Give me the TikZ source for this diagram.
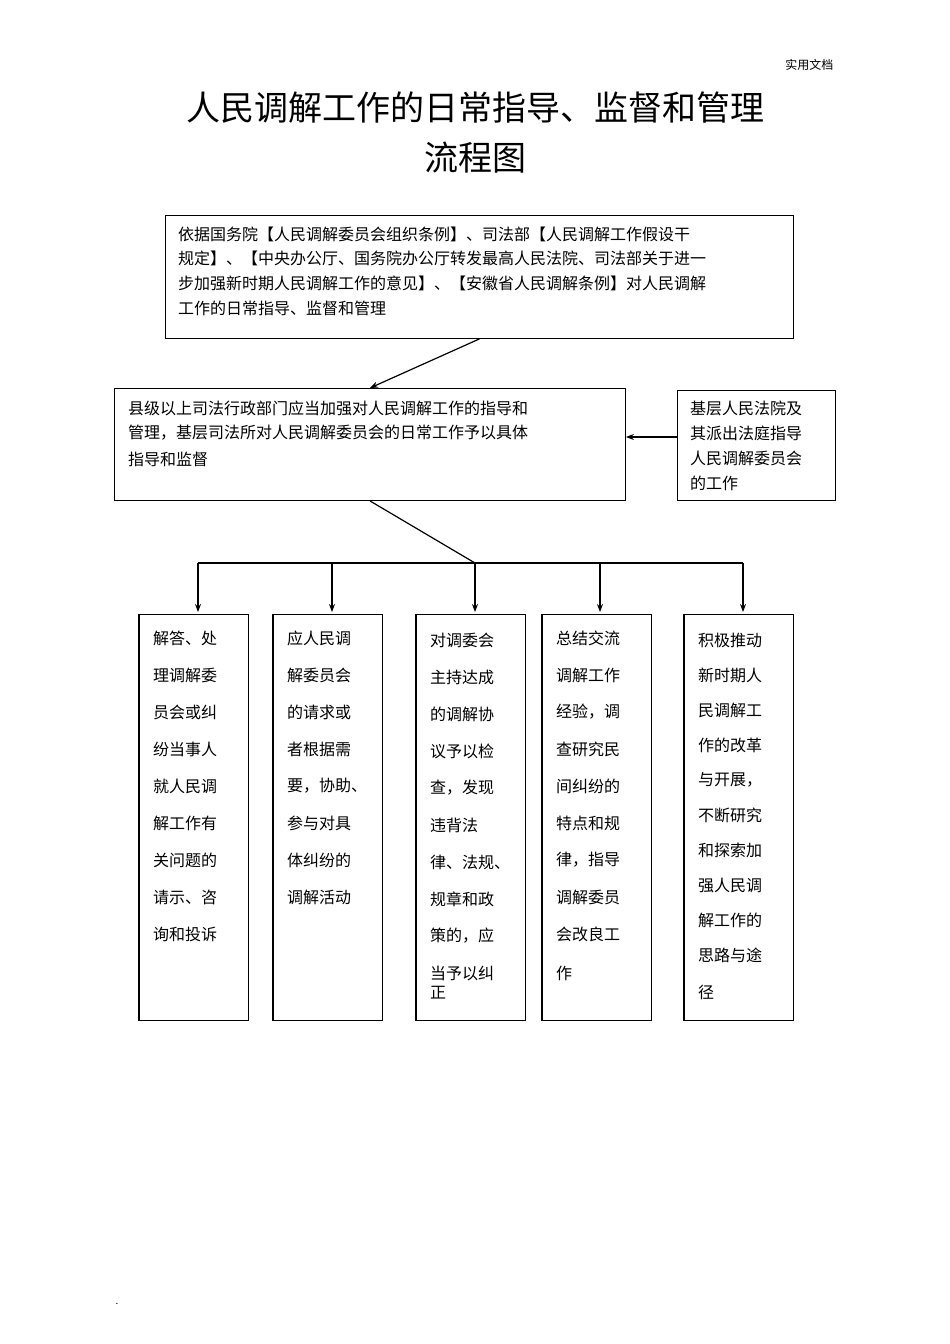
\documentclass[tikz,border=0pt]{standalone}
\usepackage{fontspec}
\usetikzlibrary{arrows.meta}
\setmainfont{Noto Sans CJK SC}
\XeTeXlinebreaklocale "zh"
\XeTeXlinebreakskip=0pt plus 1pt
\newcommand{\sprd}[2]{\makebox[#1][s]{#2}}
\begin{document}
\begin{tikzpicture}[x=1pt,y=-1pt,
  box/.style={draw,line width=0.9pt,anchor=north west,inner sep=0pt},
  ln/.style={anchor=west,inner sep=0pt,font=\fontsize{16}{18}\selectfont},
  arr/.style={-{Stealth[length=8pt,width=6pt]},line width=1.2pt}]
\useasboundingbox (0,0) rectangle (950,1344);
\node[anchor=east,font=\fontsize{12}{14}\selectfont] (hdr) at (837,65) {实用文档};
\node[font=\fontsize{34}{40}\selectfont] (t1) at (475,108) {人民调解工作的日常指导、监督和管理};
\node[font=\fontsize{34}{40}\selectfont] (t2) at (475,158) {流程图};
% box 1
\node[box,minimum width=628pt,minimum height=123pt] (b1) at (165,215) {};
\node[ln] (b1l1) at (178,234) {\sprd{602pt}{依据国务院【人民调解委员会组织条例】、司法部【人民调解工作假设干}};
\node[ln] (b1l2) at (178,258) {\sprd{602pt}{规定】、【中央办公厅、国务院办公厅转发最高人民法院、司法部关于进一}};
\node[ln] (b1l3) at (178,283) {\sprd{602pt}{步加强新时期人民调解工作的意见】、【安徽省人民调解条例】对人民调解}};
\node[ln] (b1l4) at (178,308) {\sprd{245pt}{工作的日常指导、监督和管理}};
% box 2
\node[box,minimum width=511pt,minimum height=112pt] (b2) at (114,388) {};
\node[ln] (b2l1) at (128,408) {\sprd{477pt}{县级以上司法行政部门应当加强对人民调解工作的指导和}};
\node[ln] (b2l2) at (128,433) {\sprd{477pt}{管理，基层司法所对人民调解委员会的日常工作予以具体}};
\node[ln] (b2l3) at (128,459) {\sprd{93pt}{指导和监督}};
% box 3
\node[box,minimum width=158pt,minimum height=110pt] (b3) at (677,390) {};
\node[ln] (b3l1) at (690,408) {\sprd{132pt}{基层人民法院及}};
\node[ln] (b3l2) at (690,433) {\sprd{132pt}{其派出法庭指导}};
\node[ln] (b3l3) at (690,458) {\sprd{132pt}{人民调解委员会}};
\node[ln] (b3l4) at (690,483) {\sprd{56pt}{的工作}};
% connectors top
\draw[arr] (b1.south) -- (b2.north);
\draw[arr] (b3.west |- 0,437) -- (b2.east |- 0,437);
\coordinate (hub) at (475,563);
\coordinate (hl) at (198,563);
\coordinate (hr) at (743,563);
\draw[line width=1.2pt] (b2.south) -- (hub);
\draw[line width=1.2pt] (hl) -- (hr);
% bottom boxes
\foreach \n/\x in {c1/139,c2/273,c3/416,c4/542,c5/684}{
  \node[box,minimum width=109pt,minimum height=406pt] (\n) at (\x,614) {};
  \draw[line width=1.6pt] (\n.north west) -- (\n.south west);
}
\foreach \n/\x in {c1/198,c2/332,c3/475,c4/600,c5/743}{
  \coordinate (\n t) at (\x,563);
  \draw[arr] (\n t) -- (\x,612);
}
\foreach [count=\i] \t in {解答、处,理调解委,员会或纠,纷当事人,就人民调,解工作有,关问题的,请示、咨,询和投诉}
  \node[ln] (c1l\i) at (153,638+37*\i-37) {\sprd{82pt}{\t}};
\foreach [count=\i] \t in {应人民调,解委员会,的请求或,者根据需,{要，协助、},参与对具,体纠纷的,调解活动}
  \node[ln] (c2l\i) at (287,638+37*\i-37) {\sprd{82pt}{\t}};
\foreach [count=\i] \t in {对调委会,主持达成,的调解协,议予以检,{查，发现},违背法,{律、法规、},规章和政,{策的，应},当予以纠}
  \node[ln] (c3l\i) at (430,640+37*\i-37) {\sprd{82pt}{\t}};
\node[ln] (c3l11) at (430,993) {正};
\foreach [count=\i] \t in {总结交流,调解工作,{经验，调},查研究民,间纠纷的,特点和规,{律，指导},调解委员,会改良工}
  \node[ln] (c4l\i) at (556,638+37*\i-37) {\sprd{82pt}{\t}};
\node[ln] (c4l10) at (556,973) {作};
\foreach [count=\i] \t in {积极推动,新时期人,民调解工,作的改革,{与开展，},不断研究,和探索加,强人民调,解工作的,思路与途}
  \node[ln] (c5l\i) at (698,640+35*\i-35) {\sprd{82pt}{\t}};
\node[ln] (c5l11) at (698,992) {径};
\node[font=\fontsize{10}{12}\selectfont] (dot) at (117,1304) {.};
\end{tikzpicture}
\end{document}
